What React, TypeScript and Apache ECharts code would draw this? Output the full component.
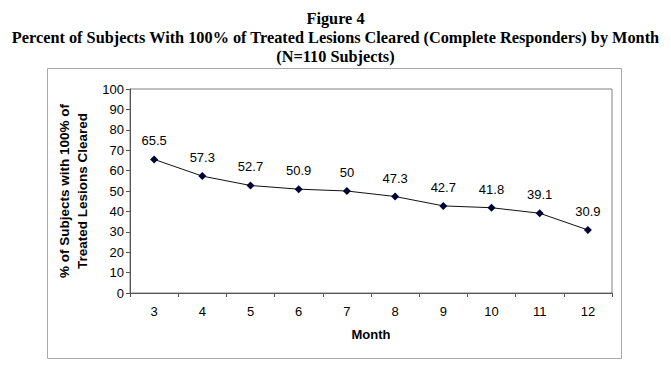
import React, { useEffect, useRef } from "react";
import * as echarts from "echarts";

const months = ["3", "4", "5", "6", "7", "8", "9", "10", "11", "12"];
const percentCleared = [65.5, 57.3, 52.7, 50.9, 50, 47.3, 42.7, 41.8, 39.1, 30.9];
const titleLines = [
  "Figure 4",
  "Percent of Subjects With 100% of Treated Lesions Cleared (Complete Responders) by Month",
  "(N=110 Subjects)",
];
const yAxisName = "% of Subjects with 100% of\nTreated Lesions Cleared";
const xAxisName = "Month";

const sans = "Arial, Liberation Sans";

export default function App() {
  const ref = useRef<HTMLDivElement>(null);
  useEffect(() => {
    if (!ref.current) return;
    const chart = echarts.init(ref.current, null, { renderer: "svg" });
    chart.setOption({
      animation: false,
      backgroundColor: "#ffffff",
      title: {
        text: titleLines.join("\n"),
        left: "center",
        top: 4,
        textStyle: {
          fontFamily: "Liberation Serif",
          fontWeight: "bold",
          fontSize: 16.3,
          lineHeight: 19,
          color: "#000",
        },
      },
      graphic: [
        {
          type: "rect",
          shape: { x: 47.5, y: 68.5, width: 574, height: 290 },
          style: { fill: "none", stroke: "#a8a8a8", lineWidth: 1 },
          silent: true,
          z: -1,
        },
      ],
      grid: {
        left: 130,
        right: 59,
        top: 89,
        bottom: 73,
        show: true,
        borderColor: "#808080",
        borderWidth: 1,
      },
      xAxis: {
        type: "category",
        data: months,
        boundaryGap: true,
        name: xAxisName,
        nameLocation: "middle",
        nameGap: 35,
        nameTextStyle: { fontFamily: sans, fontWeight: "bold", fontSize: 13, color: "#000" },
        axisLine: { lineStyle: { color: "#555", width: 1 } },
        axisTick: { show: true, alignWithLabel: false, length: 4, lineStyle: { color: "#555" } },
        axisLabel: { fontFamily: sans, fontSize: 13, color: "#000", margin: 12 },
        splitLine: { show: false },
      },
      yAxis: {
        type: "value",
        min: 0,
        max: 100,
        interval: 10,
        name: yAxisName,
        nameLocation: "middle",
        nameGap: 35,
        nameTextStyle: { fontFamily: sans, fontWeight: "bold", fontSize: 13.5, lineHeight: 18, color: "#000" },
        axisLine: { show: true, lineStyle: { color: "#555", width: 1 } },
        axisTick: { show: true, length: 4, lineStyle: { color: "#555" } },
        axisLabel: { fontFamily: sans, fontSize: 13, color: "#000", margin: 6 },
        splitLine: { show: false },
      },
      series: [
        {
          type: "line",
          data: percentCleared,
          symbol: "diamond",
          symbolSize: 8,
          itemStyle: { color: "#000033" },
          lineStyle: { color: "#111", width: 1 },
          label: {
            show: true,
            position: "top",
            distance: 8,
            fontFamily: sans,
            fontSize: 13,
            color: "#000",
          },
        },
      ],
    });
    return () => chart.dispose();
  }, []);
  return (
    <div
      ref={ref}
      style={{ position: "absolute", left: 0, top: 0, width: 671, height: 366 }}
    />
  );
}
